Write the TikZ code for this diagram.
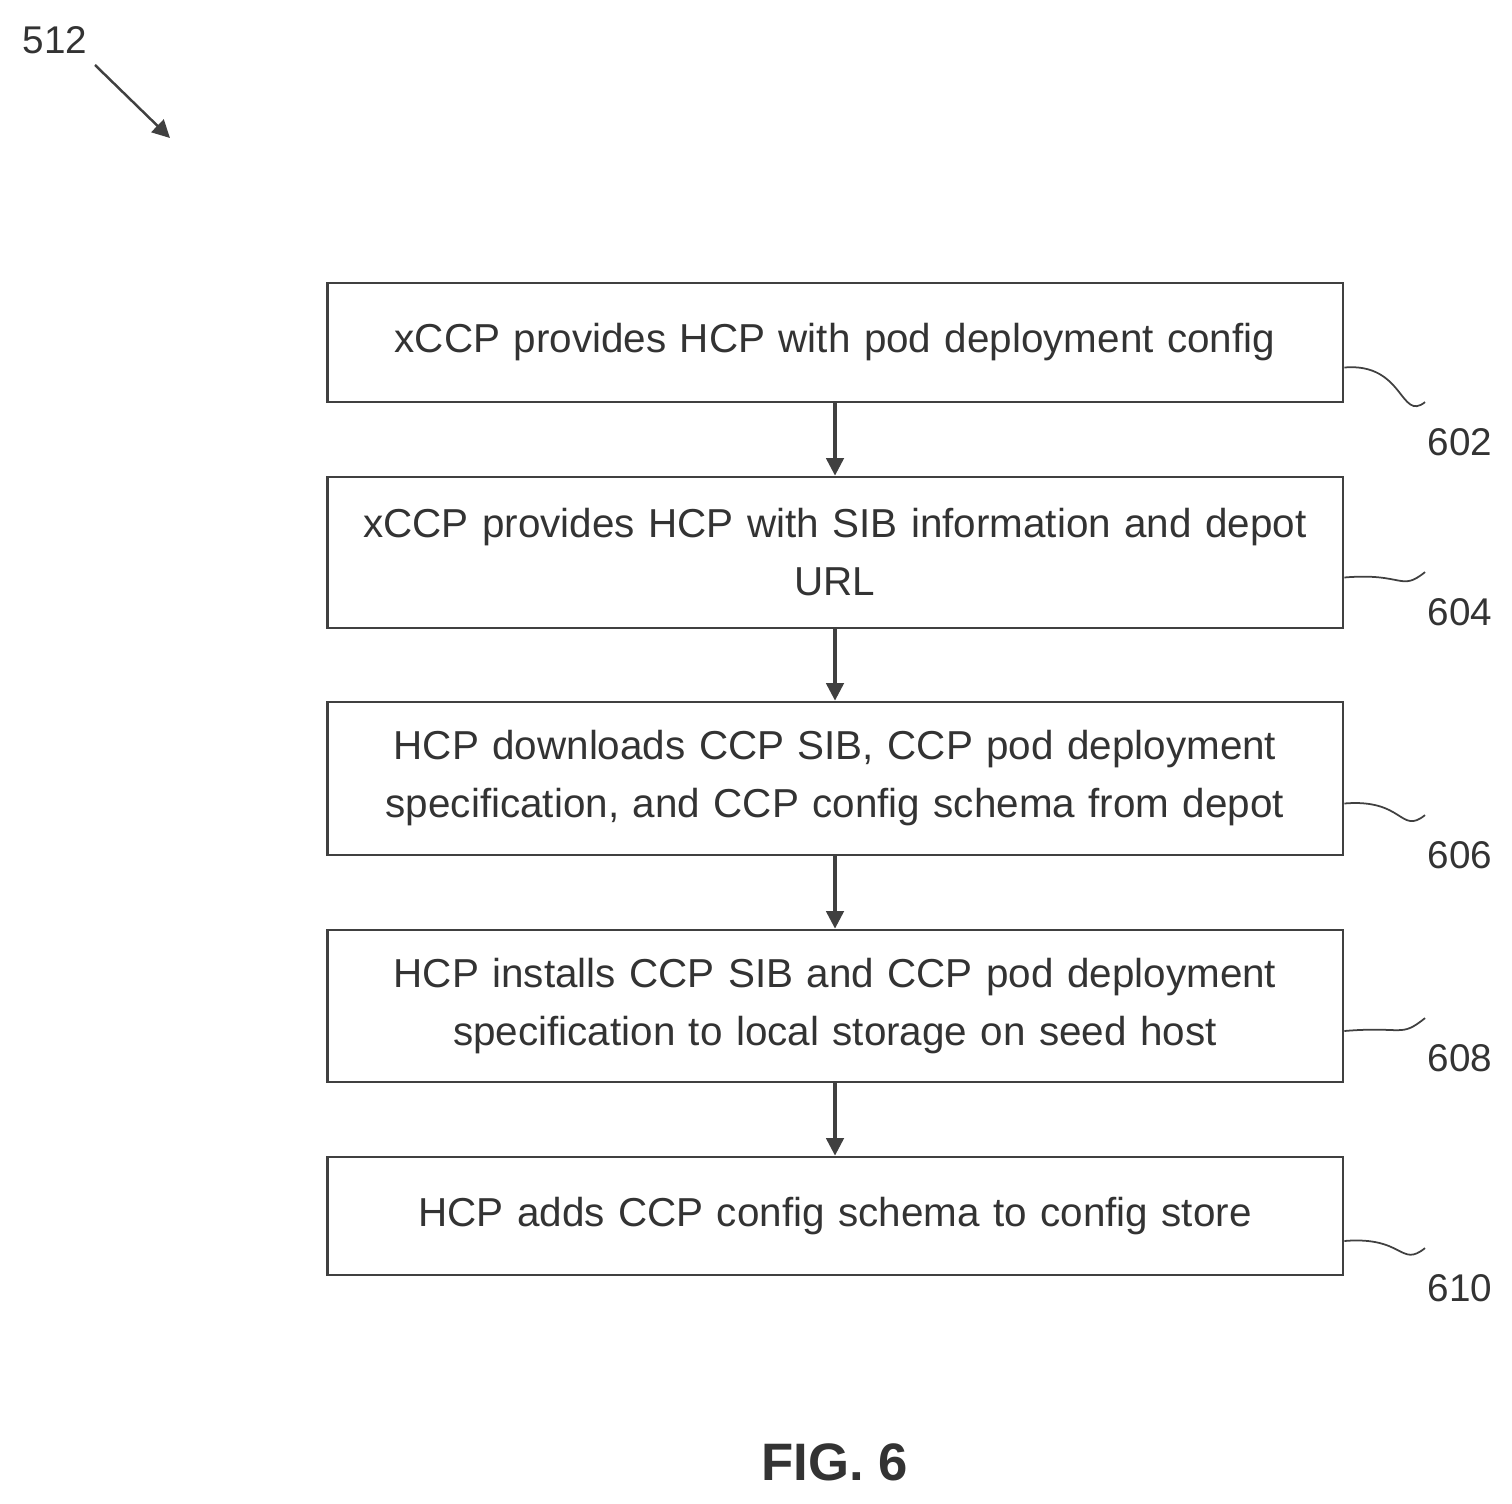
\documentclass[tikz,border=0pt]{standalone}
\usepackage{fontspec}
\setmainfont{Liberation Sans}
\usetikzlibrary{positioning,arrows.meta}
\tikzset{
  stepbox/.style={draw=black!75, line width=1.6pt, minimum width=20.32cm, text width=19.9cm, align=center,
    font=\fontsize{23}{33}\selectfont, text=black!80},
  flow/.style={draw=black!75, line width=1.8pt, -{Triangle[length=10pt,width=10pt]}},
  lead/.style={draw=black!75, line width=1pt},
  refnum/.style={font=\fontsize{22}{26}\selectfont, text=black!80}
}
\begin{document}
\begin{tikzpicture}[x=0.02cm,y=-0.02cm]
\useasboundingbox (0,0) rectangle (1512,1504);
\node[refnum] (n512) at (55,40) {512};
\coordinate (t512) at (170,138);
\draw[flow, line width=1.4pt] (95,65) -- (t512);
% steps
\node[stepbox, minimum height=2.38cm] (s602) at (835,342.5) {xCCP provides HCP with pod deployment config};
\node[stepbox, minimum height=3.02cm] (s604) at (835,552.5) {xCCP provides HCP with SIB information and depot\\URL};
\node[stepbox, minimum height=3.06cm] (s606) at (835,778.5) {HCP downloads CCP SIB, CCP pod deployment\\specification, and CCP config schema from depot};
\node[stepbox, minimum height=3.04cm] (s608) at (835,1006) {HCP installs CCP SIB and CCP pod deployment\\specification to local storage on seed host};
\node[stepbox, minimum height=2.36cm] (s610) at (835,1216) {HCP adds CCP config schema to config store};
\draw[flow] (s602) -- (s604);
\draw[flow] (s604) -- (s606);
\draw[flow] (s606) -- (s608);
\draw[flow] (s608) -- (s610);
% reference numerals
\foreach \s/\y in {602/442, 604/612, 606/855, 608/1058, 610/1288}{
  \node[refnum] (l\s) at (1460,\y) {\s};
  \draw[lead] ([yshift=-0.5cm]s\s.east) .. controls +(1.2cm,0.1cm) and +(-0.5cm,-0.4cm) .. ([xshift=-0.7cm,yshift=0.4cm]l\s.north);
}
\node[font=\fontsize{30}{36}\selectfont\bfseries, text=black!80] (fig) at (835,1462) {FIG. 6};
\end{tikzpicture}
\end{document}
